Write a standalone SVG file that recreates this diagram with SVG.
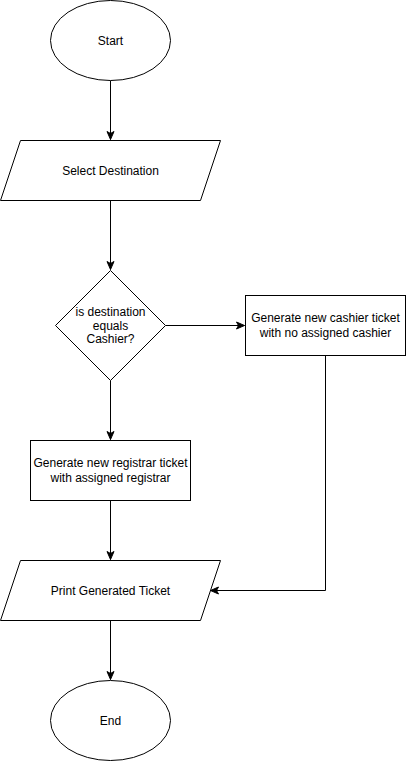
<svg xmlns="http://www.w3.org/2000/svg" width="406" height="761" viewBox="0 0 406 761">
<style>
.shape{fill:#fff;stroke:#000;stroke-width:1}
.edge{fill:none;stroke:#000;stroke-width:1}
text{font-family:"Liberation Sans",Arial,sans-serif;font-size:12px;fill:#000;text-anchor:middle;dominant-baseline:central}
</style>
<defs>
<marker id="arrow" markerUnits="userSpaceOnUse" markerWidth="10" markerHeight="10" viewBox="0 0 10 10" refX="9" refY="5" orient="auto">
<path d="M1,1.5 L9,5 L1,8.5 L3,5 Z" fill="#000" stroke="#000" stroke-width="1"/>
</marker>
</defs>
<rect width="406" height="761" fill="#fff"/>
<g id="connectors">
<path class="edge" d="M110.5,80.5 L110.5,139.5" marker-end="url(#arrow)"/>
<path class="edge" d="M110.5,200.5 L110.5,269.5" marker-end="url(#arrow)"/>
<path class="edge" d="M165.5,325.5 L244.5,325.5" marker-end="url(#arrow)"/>
<path class="edge" d="M110.5,380.5 L110.5,439.5" marker-end="url(#arrow)"/>
<path class="edge" d="M110.5,500.5 L110.5,559.5" marker-end="url(#arrow)"/>
<path class="edge" d="M325.5,355.5 L325.5,590.5 L210.5,590.5" marker-end="url(#arrow)"/>
<path class="edge" d="M110.5,620.5 L110.5,679.5" marker-end="url(#arrow)"/>
</g>
<g id="start">
<ellipse class="shape" cx="110.5" cy="40.5" rx="60" ry="40"/>
<text x="110.5" y="40.5">Start</text>
</g>
<g id="select-destination">
<path class="shape" d="M20.5,140.5 L220.5,140.5 L200.5,200.5 L0.5,200.5 Z"/>
<text x="110.5" y="170.5">Select Destination</text>
</g>
<g id="decision">
<path class="shape" d="M110.5,270.5 L165.5,325.5 L110.5,380.5 L55.5,325.5 Z"/>
<text x="110.5" y="312">is destination</text>
<text x="110.5" y="325.5">equals</text>
<text x="110.5" y="339">Cashier?</text>
</g>
<g id="cashier-ticket">
<rect class="shape" x="245.5" y="295.5" width="160" height="60"/>
<text x="325.5" y="318">Generate new cashier ticket</text>
<text x="325.5" y="333">with no assigned cashier</text>
</g>
<g id="registrar-ticket">
<rect class="shape" x="30.5" y="440.5" width="160" height="60"/>
<text x="110.5" y="463">Generate new registrar ticket</text>
<text x="110.5" y="478">with assigned registrar</text>
</g>
<g id="print-ticket">
<path class="shape" d="M20.5,560.5 L220.5,560.5 L200.5,620.5 L0.5,620.5 Z"/>
<text x="110.5" y="590.5">Print Generated Ticket</text>
</g>
<g id="end">
<ellipse class="shape" cx="110.5" cy="720.5" rx="60" ry="40"/>
<text x="110.5" y="720.5">End</text>
</g>
</svg>
